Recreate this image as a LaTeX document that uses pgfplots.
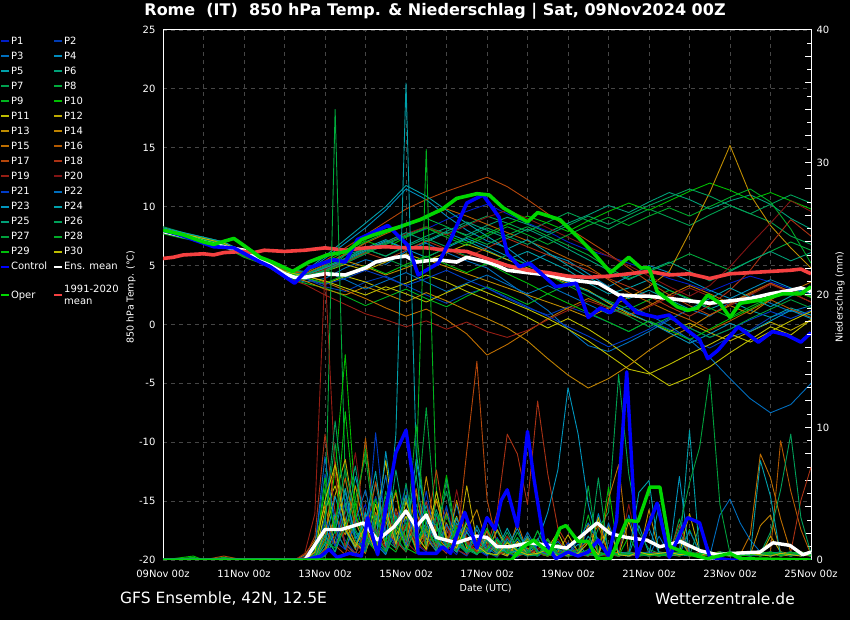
\documentclass[border=0pt]{standalone}
\usepackage{fontspec}
\setmainfont{DejaVu Sans}
\usepackage{pgfplots}
\usepackage{pgfplotstable}
\pgfplotsset{compat=1.18}

\definecolor{m1}{RGB}{0,30,200}\definecolor{m2}{RGB}{0,60,180}\definecolor{m3}{RGB}{0,110,190}
\definecolor{m4}{RGB}{0,140,190}\definecolor{m5}{RGB}{0,160,170}\definecolor{m6}{RGB}{0,160,120}
\definecolor{m7}{RGB}{0,160,80}\definecolor{m8}{RGB}{0,170,60}\definecolor{m9}{RGB}{0,180,30}
\definecolor{m10}{RGB}{0,190,0}\definecolor{m11}{RGB}{190,190,0}\definecolor{m12}{RGB}{190,170,0}
\definecolor{m13}{RGB}{190,140,0}\definecolor{m14}{RGB}{190,130,0}\definecolor{m15}{RGB}{190,110,0}
\definecolor{m16}{RGB}{180,90,0}\definecolor{m17}{RGB}{180,70,10}\definecolor{m18}{RGB}{170,50,20}
\definecolor{m19}{RGB}{150,30,20}\definecolor{m20}{RGB}{130,20,20}\definecolor{m21}{RGB}{0,60,200}
\definecolor{m22}{RGB}{0,110,190}\definecolor{m23}{RGB}{0,150,190}\definecolor{m24}{RGB}{0,160,170}
\definecolor{m25}{RGB}{0,160,120}\definecolor{m26}{RGB}{0,160,90}\definecolor{m27}{RGB}{0,160,60}
\definecolor{m28}{RGB}{0,170,40}\definecolor{m29}{RGB}{0,190,10}\definecolor{m30}{RGB}{190,190,0}
\definecolor{ctrl}{RGB}{0,0,255}\definecolor{oper}{RGB}{0,215,0}\definecolor{clim}{RGB}{245,65,65}
\definecolor{gridc}{RGB}{70,70,70}

% 850 hPa temperature of the members, one row per member (days 0,0.5,...,16)
\pgfplotstableread{
m 0 0.5 1 1.5 2 2.5 3 3.5 4 4.5 5 5.5 6 6.5 7 7.5 8 8.5 9 9.5 10 10.5 11 11.5 12 12.5 13 13.5 14 14.5 15 15.5 16
P1 8.1 7.6 7.3 6.9 5.9 5.3 4.3 4.0 4.6 5.2 6.0 6.8 7.5 8.1 8.9 9.6 10.2 9.4 8.6 7.9 7.0 6.3 5.8 5.2 4.6 3.9 3.4 2.8 3.5 4.1 3.6 3.0 2.4
P2 7.9 7.5 7.1 6.7 6.1 5.5 4.6 3.9 3.2 2.8 3.6 4.1 3.3 2.5 1.8 2.6 3.1 2.2 1.4 0.8 1.5 0.9 0.2 -0.6 0.3 -0.4 -1.2 -2.0 -1.1 -0.5 0.6 1.2 0.8
P3 8.2 7.7 7.4 7.0 5.8 5.2 4.1 3.6 3.9 4.8 5.5 5.1 6.2 6.9 6.1 5.4 4.8 3.6 2.4 1.2 -0.4 -1.8 -2.3 -1.5 -0.6 0.4 1.3 0.7 1.9 2.6 1.8 1.1 1.6
P4 7.8 7.4 7.2 6.8 6.2 5.6 4.7 4.4 5.6 6.9 8.2 9.7 11.5 10.6 9.2 8.0 7.1 6.5 5.2 6.0 5.4 4.3 3.2 4.1 5.0 4.4 3.7 2.9 2.2 3.0 3.8 3.1 2.6
P5 8.0 7.5 7.2 6.8 6.0 5.4 4.4 4.2 4.9 5.6 6.5 7.2 6.4 7.0 7.8 7.1 6.3 5.5 6.2 5.4 4.6 3.5 2.6 3.1 3.8 2.9 2.1 1.3 2.0 1.2 0.6 1.4 0.8
P6 7.9 7.4 7.0 6.6 5.9 5.4 4.5 4.3 5.0 5.9 6.4 5.8 6.7 7.5 8.2 7.6 8.4 9.1 8.5 7.8 8.6 9.3 10.1 9.5 10.4 11.2 10.6 9.8 10.5 11.0 10.2 9.0 8.1
P7 8.3 7.8 7.4 7.0 6.1 5.5 4.5 4.1 4.7 5.3 6.1 6.9 7.6 8.3 7.7 8.5 9.2 8.6 7.9 8.7 9.5 8.8 8.1 9.0 9.8 9.1 8.4 9.3 10.1 9.4 8.7 7.5 6.8
P8 8.0 7.6 7.3 6.9 6.0 5.3 4.2 3.8 4.4 5.9 7.0 7.8 8.4 9.0 8.3 7.5 6.8 7.6 8.3 7.5 6.7 5.9 4.8 3.9 4.5 5.2 6.0 5.3 4.6 5.4 6.2 7.0 6.3
P9 7.7 7.3 7.0 6.6 5.7 5.1 4.0 3.5 3.1 2.4 1.6 2.3 3.0 2.2 1.5 2.4 3.2 2.5 1.7 2.6 3.4 2.8 2.0 1.3 2.1 2.9 2.2 1.4 0.6 1.5 2.3 3.0 2.4
P10 8.1 7.7 7.3 6.9 6.2 5.6 4.7 4.4 5.3 6.2 7.1 6.5 7.4 8.2 7.6 6.9 7.7 8.5 9.2 8.6 7.9 8.8 9.6 10.3 9.7 10.5 11.3 12.0 11.4 10.6 11.2 10.5 9.8
P11 7.9 7.5 7.2 6.8 5.9 5.2 4.3 3.9 3.4 4.1 3.6 2.9 3.5 4.2 3.6 2.8 2.1 1.4 0.6 -0.3 0.5 -0.4 -1.5 -2.8 -4.1 -5.2 -4.5 -3.6 -2.4 -1.3 -0.2 -0.9 0.4
P12 8.0 7.6 7.2 6.8 6.0 5.4 4.4 4.0 4.5 5.1 4.6 5.3 6.0 5.4 6.1 6.8 6.2 5.5 4.8 4.1 3.5 2.9 1.8 0.9 0.2 -0.6 0.1 -0.7 -1.4 -0.6 0.2 -0.5 0.4
P13 8.1 7.6 7.2 6.9 6.1 5.3 4.3 4.1 4.8 5.4 4.9 4.2 4.8 5.5 4.9 4.3 3.7 3.1 2.5 1.9 1.3 0.6 1.4 2.3 3.2 4.5 7.8 11.2 15.2 11.0 8.4 6.5 4.8
P14 7.8 7.4 7.0 6.7 5.8 5.2 4.2 3.7 3.0 2.5 3.2 2.6 1.9 2.7 2.0 1.2 0.5 -0.3 -1.4 -2.9 -4.3 -5.4 -4.6 -3.5 -2.2 -1.1 -0.3 0.8 1.6 0.9 2.1 3.0 2.3
P15 8.0 7.5 7.1 6.8 6.0 5.4 4.5 4.2 3.6 2.9 2.2 1.4 0.7 1.3 0.4 -0.8 -2.6 -1.7 -0.6 0.5 1.4 2.2 1.5 0.8 1.6 2.5 3.3 2.6 1.8 2.7 3.5 2.8 3.6
P16 8.2 7.7 7.3 6.9 6.0 5.5 4.6 4.3 5.1 6.0 6.9 7.7 8.4 9.1 9.8 9.2 8.5 7.8 7.1 6.4 5.6 4.9 3.8 2.7 1.9 1.1 0.4 -0.5 0.3 1.2 2.1 1.3 0.6
P17 8.0 7.6 7.2 6.8 6.1 5.5 4.6 4.4 5.4 6.5 7.6 8.7 9.8 10.6 11.3 11.9 12.5 11.7 10.6 9.4 8.2 7.1 6.0 4.8 3.6 2.5 1.6 0.8 1.7 2.6 3.5 2.7 1.9
P18 7.9 7.5 7.1 6.7 5.9 5.3 4.4 4.0 4.6 5.3 6.1 5.5 6.3 7.1 6.4 5.7 6.5 7.3 6.6 5.9 5.2 4.6 3.9 3.2 2.4 1.5 0.7 1.6 2.9 4.6 6.8 8.9 7.5
P19 7.8 7.4 7.1 6.7 5.8 5.1 4.0 3.4 2.5 1.7 0.9 0.4 -0.2 0.3 -0.4 0.2 -0.6 -1.1 -0.5 0.4 1.2 2.0 1.4 0.7 1.5 2.3 3.1 2.4 1.6 2.5 3.4 2.7 1.9
P20 8.1 7.7 7.3 6.9 6.0 5.4 4.5 4.1 4.7 5.5 6.3 7.0 7.7 8.3 7.6 8.4 9.1 9.7 9.0 8.2 7.4 6.6 5.8 5.0 4.1 3.2 2.4 3.3 4.9 6.8 8.6 10.5 9.6
P21 8.0 7.5 7.2 6.8 6.0 5.3 4.3 3.9 3.4 3.9 4.6 4.0 3.3 3.9 4.6 3.8 3.1 2.3 1.5 0.7 -0.2 -1.0 -1.9 -1.2 -0.4 0.5 -0.3 -1.1 -0.4 0.4 1.1 0.5 1.2
P22 7.9 7.4 7.1 6.7 5.9 5.3 4.4 4.0 4.5 3.8 3.0 3.7 4.4 3.6 2.8 3.5 4.2 3.4 2.6 3.3 2.5 1.7 0.9 1.6 0.8 -0.1 -1.3 -2.8 -4.6 -6.3 -7.5 -6.8 -5.0
P23 8.1 7.6 7.2 6.8 6.0 5.4 4.5 4.2 4.8 5.5 6.3 7.1 6.4 5.7 6.5 7.3 6.6 5.8 5.1 4.3 3.6 2.8 1.9 1.0 0.2 -0.7 -1.6 -0.8 0.1 -0.6 0.3 1.2 0.5
P24 8.2 7.8 7.4 7.0 6.2 5.6 4.7 4.5 5.8 7.2 8.6 10.0 11.8 10.9 9.7 8.6 7.5 6.4 7.2 6.1 5.0 4.0 3.1 2.2 2.9 2.1 1.3 2.2 3.1 2.3 1.5 2.4 3.2
P25 7.9 7.5 7.1 6.7 5.9 5.3 4.3 4.0 4.6 5.4 6.2 7.0 7.8 7.1 7.9 8.7 8.0 7.3 8.1 7.3 6.4 5.5 4.6 3.8 4.6 5.3 4.5 3.7 4.5 5.4 6.2 5.4 6.1
P26 8.0 7.6 7.2 6.8 6.1 5.5 4.5 4.2 4.9 5.6 6.4 5.8 6.6 7.3 6.6 7.4 8.2 7.5 6.8 7.6 8.4 9.2 8.5 9.3 10.1 10.8 11.5 10.9 10.1 9.4 10.2 11.0 10.3
P27 8.1 7.6 7.3 6.9 6.0 5.3 4.4 4.1 4.6 4.0 4.8 5.6 4.9 5.7 6.5 5.8 5.1 5.9 5.0 4.2 3.3 2.4 1.5 0.7 -0.2 0.6 -0.3 -1.1 -0.4 0.5 1.3 2.1 1.4
P28 7.8 7.4 7.0 6.6 5.8 5.2 4.2 3.9 4.5 5.2 6.0 6.8 7.5 8.2 7.4 6.7 7.5 8.3 7.6 6.8 7.6 8.4 9.1 8.4 9.2 9.9 9.2 10.0 10.8 11.5 10.4 8.1 5.2
P29 8.0 7.5 7.1 6.8 6.0 5.4 4.4 4.0 3.5 4.2 5.0 4.3 5.1 5.8 5.1 4.4 5.2 4.3 3.5 2.6 1.8 1.0 0.2 -0.6 0.3 -0.5 -1.3 -0.4 0.5 1.3 2.2 3.0 2.3
P30 8.1 7.7 7.3 6.9 6.1 5.4 4.5 4.1 3.7 3.1 2.5 3.2 2.6 1.9 2.7 3.4 2.7 2.0 1.3 0.5 -0.4 -1.4 -2.6 -3.8 -4.2 -3.4 -2.5 -1.7 -0.8 -1.5 -0.6 0.3 1.1
}\tmemraw
\pgfplotstabletranspose[colnames from=m, input colnames to=t]\tmem\tmemraw

% 6-hourly precipitation of the members (mm)
\pgfplotstableread{
t P1 P2 P3 P4 P5 P6 P7 P8 P9 P10 P11 P12 P13 P14 P15 P16 P17 P18 P19 P20 P21 P22 P23 P24 P25 P26 P27 P28 P29 P30
0 0 0 0 0 0 0 0 0 0 0 0 0 0 0 0 0 0 0 0 0 0 0 0 0 0 0 0 0 0 0
0.75 0 0 0 0 0 0 0 0 0.2 0.3 0 0 0 0 0 0 0 0 0 0 0 0 0 0 0 0 0 0 0 0
1 0 0 0 0 0 0 0 0 0 0 0 0 0 0 0 0 0 0 0 0 0 0 0 0 0 0 0 0 0 0
1.5 0 0 0 0 0 0 0 0 0 0 0 0 0 0 0 0 0.3 0 0 0 0 0 0 0 0 0 0 0.2 0 0
2 0 0 0 0 0 0 0 0 0 0 0 0 0 0 0 0 0 0 0 0 0 0 0 0 0 0 0 0 0 0
2.5 0 0 0 0.1 0 0 0 0 0 0 0 0 0 0 0 0 0 0 0 0 0 0 0 0 0 0 0 0 0 0
3 0 0 0 0 0 0 0 0 0 0 0 0 0 0 0 0 0 0 0 0 0 0 0 0 0 0 0 0 0 0
3.25 0 0 0 0 0 0 0 0 0 0 0 0 0 0 0 0 0 0 0 0 0 0 0 0 0 0 0 0 0 0
3.5 0 0.3 0 0 0 0 0 0 0 0 0 0 0 0.4 0 0 0 0.2 0.5 0 0 0 0 0 0 0 0 0 0 0
3.75 0.5 1.2 0 0.3 0 0 0.8 0 0.4 0 0 0 0 1.5 0 0 0.6 1.8 3.5 0 0.2 0.9 0 0 0 0.4 0 0 0 0.6
4 2.1 6.5 0.4 1.8 0.9 0.3 3.2 2.5 5.4 1.2 3.8 2.2 0.5 4.1 1.6 0.8 2.4 9.5 22.0 0.6 3.1 7.8 1.2 0.4 1.9 2.7 0.3 1.4 6.2 4.5
4.25 1.4 3.2 2.8 0.6 3.5 1.6 8.8 34.0 2.1 6.8 5.6 4.9 3.3 1.2 7.4 2.9 1.1 3.6 6.5 1.8 1.0 2.4 4.8 2.2 0.6 10.5 2.8 0.9 2.0 7.2
4.5 0.8 1.5 5.1 2.7 1.2 4.3 2.4 6.1 1.0 15.5 2.8 7.6 1.9 2.6 3.1 6.2 0.4 1.2 0.9 3.5 4.6 0.8 2.2 5.4 3.8 4.1 6.9 2.5 11.2 2.3
4.75 2.6 0.5 1.8 6.3 0.4 2.1 1.1 2.3 3.6 4.2 1.3 2.9 5.6 0.8 1.2 2.5 3.4 0.5 0.3 8.1 1.8 2.9 0.9 1.6 7.1 1.5 3.2 4.6 3.4 1.0
5 4.2 1.9 0.7 3.1 2.6 0.8 3.5 0.9 8.4 1.6 0.6 1.1 2.1 3.4 0.5 9.2 1.6 2.2 1.1 2.4 0.7 5.3 3.6 2.8 1.9 0.6 1.5 7.8 1.2 2.6
5.25 1.3 4.8 2.5 1.2 5.8 3.2 1.4 2.6 3.1 0.7 2.8 4.2 1.0 1.9 3.6 2.2 5.9 0.8 2.4 1.2 9.6 1.6 1.2 6.7 0.8 3.4 0.9 2.1 4.6 0.6
5.5 0.5 2.1 6.4 0.4 1.9 1.2 0.6 4.8 1.2 2.9 7.5 0.9 3.4 2.6 1.1 0.7 2.3 3.8 0.9 4.5 2.1 0.8 8.2 1.1 3.6 1.5 5.2 0.6 1.4 3.8
5.75 2.8 0.9 1.4 2.5 3.4 6.8 2.1 1.5 0.6 5.3 1.9 2.7 0.8 5.1 2.6 3.9 1.2 1.4 3.6 0.8 1.2 3.3 2.6 9.5 1.4 0.9 1.8 3.3 2.8 1.2
6 5.6 3.1 0.8 1.7 0.9 2.4 4.6 2.8 2.4 1.4 3.3 1.2 2.6 0.9 4.8 1.6 3.8 0.6 1.4 2.7 3.8 1.1 4.9 36.0 2.3 5.8 0.6 1.5 0.9 4.4
6.25 1.2 1.4 3.5 7.6 2.2 0.9 1.8 0.7 6.2 3.8 0.8 5.1 1.1 3.7 1.2 5.4 0.9 2.5 0.6 1.3 1.6 4.2 1.5 8.1 6.4 1.2 2.7 10.2 0.5 1.9
6.5 0.6 4.5 1.6 2.9 4.1 1.7 0.8 3.6 31.0 0.8 2.4 1.6 6.3 1.2 2.3 0.8 2.1 4.4 1.8 0.7 5.2 1.9 2.8 3.2 1.1 2.5 11.5 2.1 3.7 0.8
6.75 3.3 1.1 2.4 0.8 1.3 3.8 2.6 1.2 5.3 2.2 4.6 0.7 1.8 4.5 1.0 2.6 6.8 1.2 0.9 3.2 1.3 0.6 1.4 2.6 3.5 0.8 2.4 1.3 1.6 5.2
7 1.1 2.3 0.9 3.6 0.7 1.5 5.2 0.8 1.4 6.4 1.5 2.8 0.9 1.8 3.6 1.2 2.2 0.5 2.6 1.1 4.1 2.7 0.8 1.2 0.9 6.1 1.2 3.4 0.8 1.6
7.25 0.4 0.8 4.2 1.2 2.8 0.6 1.6 2.4 0.8 1.9 3.3 0.8 4.5 0.6 1.4 3.1 1.1 2.6 0.8 5.3 0.7 1.4 3.2 0.6 2.2 1.3 0.7 1.2 2.5 0.9
7.5 2.2 0.3 1.1 0.6 1.3 2.9 0.5 1.6 2.5 0.6 0.9 5.6 1.3 2.2 0.8 1.4 8.2 1.3 0.4 1.6 2.4 0.5 1.1 2.1 0.6 0.8 3.1 0.6 1.1 2.8
7.75 0.8 1.6 0.5 2.3 0.4 1.2 0.9 0.5 1.1 2.6 0.5 1.4 0.6 3.8 1.9 0.7 15.0 0.6 1.5 0.5 1.2 2.6 0.4 0.9 1.8 0.4 1.2 0.9 0.5 1.1
8 0.3 0.6 1.8 0.7 1.6 0.5 2.4 0.8 0.5 1.1 1.8 0.6 2.2 1.2 0.6 2.2 4.6 0.9 0.6 1.2 0.5 0.9 1.6 0.4 0.7 1.5 0.6 2.4 0.8 0.5
8.25 1.2 0.2 0.6 1.5 0.8 2.2 0.6 1.4 0.3 0.5 0.6 2.3 0.7 0.5 1.3 0.5 1.2 3.6 0.3 0.6 1.7 0.4 0.5 1.2 2.9 0.6 0.3 0.8 1.6 0.4
8.5 0.5 1.4 0.3 0.6 2.4 0.7 1.3 0.5 1.6 0.8 0.3 0.9 0.4 1.8 0.5 1.4 0.6 9.5 0.8 1.8 0.5 1.6 0.9 0.5 0.8 2.1 1.4 0.5 0.6 1.3
8.75 0.2 0.6 1.2 0.3 0.8 1.6 0.4 2.1 0.5 0.4 1.4 0.5 1.2 0.6 2.8 0.6 0.3 8.0 0.4 0.7 1.6 0.5 2.4 0.7 0.4 0.6 0.8 1.7 0.3 0.7
9 0.8 0.3 0.5 1.6 0.4 0.5 1.8 0.7 1.2 0.6 0.5 1.6 0.3 0.9 0.6 1.8 0.5 4.2 1.5 0.4 0.6 2.1 0.6 1.8 0.5 0.3 0.5 0.6 1.5 0.4
9.25 0.4 1.1 0.3 0.5 1.2 0.3 0.6 0.4 0.6 2.2 0.4 0.5 0.8 0.4 1.6 0.5 0.7 12.0 0.5 0.9 0.3 0.7 1.4 0.5 1.6 0.4 2.2 0.3 0.6 0.5
9.5 1.3 0.4 0.8 0.3 0.5 0.8 0.3 1.5 0.4 0.5 0.9 0.3 1.6 0.5 0.4 0.6 0.3 6.5 0.3 0.5 0.8 0.4 3.6 0.9 0.4 1.2 0.5 1.6 0.3 0.8
9.75 0.5 0.6 1.4 0.8 0.3 0.4 1.2 0.3 0.7 0.4 2.1 0.6 0.4 1.2 0.5 0.3 1.1 2.4 0.6 1.6 0.4 1.1 6.8 0.4 0.3 0.5 0.9 0.4 1.2 0.3
10 0.3 0.4 0.5 0.5 0.6 0.3 0.5 0.6 0.3 0.8 0.5 1.9 0.3 0.5 0.8 0.6 0.4 1.1 0.4 0.5 1.3 0.5 13.0 0.6 0.8 0.4 0.3 0.5 0.6 0.4
10.25 0.8 0.3 0.3 1.2 0.4 0.6 0.8 0.4 0.5 0.3 0.4 0.6 0.5 0.3 0.4 0.8 0.3 0.6 0.5 0.3 0.4 1.5 9.5 0.3 0.5 0.6 0.4 0.8 0.3 0.5
10.5 0.4 2.5 0.6 0.3 1.8 0.4 0.3 0.8 3.4 0.6 0.3 0.4 2.7 0.6 0.5 1.4 0.5 0.4 0.3 0.6 0.5 2.8 4.2 0.5 0.4 0.3 5.6 0.4 0.5 1.3
10.75 0.3 1.6 0.4 3.5 0.6 0.3 2.4 0.3 0.6 0.4 3.2 0.3 0.4 0.5 0.3 2.6 0.4 0.3 0.5 0.4 0.3 1.4 1.2 0.4 0.3 6.2 0.3 0.6 0.4 0.4
11 0.5 0.4 2.8 0.8 0.4 0.5 3.6 0.5 0.3 5.5 0.3 0.5 0.3 0.4 4.6 0.4 0.3 0.5 0.4 0.3 0.6 0.3 0.5 2.3 0.6 0.4 0.5 0.3 0.6 2.5
11.25 0.4 0.3 0.5 0.4 0.6 0.3 14.0 0.4 0.6 0.3 0.5 0.4 0.6 0.3 7.2 0.6 0.5 0.4 0.3 0.5 0.4 0.5 0.4 0.6 0.3 0.5 0.4 0.5 0.3 0.4
11.5 0.6 0.5 3.4 0.3 0.4 0.6 6.5 0.6 0.4 0.6 0.4 2.9 0.5 0.6 0.3 0.4 0.3 0.6 0.5 4.2 0.3 0.6 0.3 0.4 0.5 0.3 0.6 0.4 1.8 0.3
11.75 0.3 0.6 0.5 0.4 2.6 0.4 2.1 0.3 0.5 0.4 0.6 0.5 0.4 0.5 0.6 0.5 0.4 0.3 0.6 0.5 0.5 0.4 0.6 5.1 0.4 0.6 0.3 0.6 0.4 0.6
12 0.5 0.4 0.3 2.4 0.5 0.5 0.8 0.5 0.3 0.6 0.4 0.6 3.8 0.4 0.5 0.3 0.6 0.4 0.3 0.4 0.6 0.5 0.4 6.0 0.3 0.5 0.4 0.3 0.5 0.4
12.25 0.4 0.3 1.8 0.5 0.3 0.4 0.5 0.4 0.6 0.5 0.3 0.4 0.5 0.3 0.4 0.6 0.5 0.6 0.4 0.3 0.4 0.3 4.2 0.4 0.6 0.4 0.5 0.4 0.3 0.5
12.5 0.3 0.6 0.4 0.3 0.6 0.5 0.4 0.3 0.4 0.3 0.5 0.3 0.4 0.6 0.5 0.4 0.3 0.5 0.3 0.6 0.3 0.6 0.4 0.3 0.5 0.6 0.3 0.5 0.4 0.6
12.75 0.4 0.6 2.2 0.5 0.3 1.6 0.4 3.1 0.5 0.4 0.6 0.5 0.3 1.8 0.6 0.4 0.5 2.7 0.6 0.3 0.5 0.4 6.3 0.5 0.4 0.5 2.4 0.3 0.6 0.4
13 0.6 0.3 0.5 0.4 0.6 0.4 0.5 0.6 0.4 2.3 0.3 3.5 0.6 0.4 0.3 0.6 0.4 0.5 0.3 0.6 0.4 2.2 0.4 9.8 0.3 0.4 5.8 0.6 0.4 0.5
13.25 0.3 0.5 0.4 0.6 0.4 0.5 0.3 0.4 0.6 0.5 0.4 0.6 0.4 0.5 0.6 0.3 0.5 0.4 0.6 0.4 0.3 0.6 0.5 0.4 2.6 0.5 8.5 0.4 0.5 0.3
13.5 0.5 0.4 0.6 0.3 0.5 0.6 0.4 0.5 0.3 0.6 0.5 0.4 0.5 0.6 0.4 0.5 0.6 0.3 0.4 0.5 0.6 0.3 0.4 0.5 0.6 0.4 14.0 0.5 0.3 0.6
13.75 0.4 0.6 0.3 0.5 0.4 0.3 0.6 0.4 0.5 0.4 0.6 0.3 0.6 0.4 0.5 0.6 0.3 0.5 0.4 0.6 0.5 3.4 0.6 0.3 0.4 0.5 4.2 0.6 0.4 0.5
14 0.6 0.5 0.4 0.6 0.3 0.5 0.4 0.6 0.4 0.5 0.3 0.5 0.4 0.3 0.6 0.4 0.5 0.6 0.3 0.4 0.6 4.6 0.5 0.6 0.3 0.6 0.5 0.4 0.6 0.4
14.25 0.3 0.4 0.6 0.4 0.5 0.6 0.3 0.5 0.6 0.3 0.5 0.6 0.3 0.5 0.4 0.3 0.6 0.4 0.5 0.6 0.4 2.8 0.3 0.5 0.6 0.3 0.4 0.5 0.3 0.6
14.5 0.5 0.6 0.3 0.5 0.6 0.4 0.5 0.3 0.4 0.6 0.4 0.5 0.6 0.4 1.9 0.5 0.4 0.3 0.6 0.5 0.3 1.5 0.6 0.4 0.5 0.6 0.3 0.6 0.4 0.5
14.75 0.4 0.3 0.5 0.6 0.4 0.5 0.6 0.4 0.5 0.4 0.6 0.3 0.5 2.6 8.0 0.4 0.5 0.6 0.4 0.3 0.5 0.6 0.4 7.5 0.3 0.5 0.6 0.3 0.5 0.4
15 0.6 0.5 0.4 0.3 0.5 0.6 0.4 0.6 0.3 0.5 0.5 1.8 0.4 3.4 6.2 0.6 0.3 0.5 0.6 0.4 0.6 0.3 0.5 4.8 0.6 2.1 0.4 0.5 0.6 0.3
15.25 0.3 0.4 0.6 0.5 0.6 0.3 0.5 0.4 0.6 0.4 0.3 0.6 0.5 0.6 3.1 9.0 0.5 0.4 0.3 0.6 0.4 0.5 0.6 0.3 0.5 5.3 0.6 0.4 0.3 0.5
15.5 0.5 0.6 0.4 0.6 0.3 0.5 0.6 0.3 0.5 0.6 0.4 0.5 0.3 0.4 0.6 5.2 0.4 0.6 0.5 0.3 0.6 0.4 0.3 0.6 0.4 9.5 0.3 0.6 0.5 0.4
15.75 0.4 0.3 0.5 0.4 0.6 0.4 0.3 0.5 0.4 0.3 0.6 0.4 0.6 0.5 0.3 2.3 0.6 4.5 0.4 0.5 0.3 0.6 0.5 0.4 0.6 3.2 0.5 0.4 0.6 0.3
16 0.6 0.5 0.3 0.6 0.4 0.6 0.5 0.6 0.3 0.5 0.4 0.3 0.5 0.3 0.6 0.4 0.3 7.0 0.6 0.4 0.5 0.3 0.6 0.5 0.3 0.5 0.4 0.6 0.3 0.6
}\prmem

\begin{document}
\begin{tikzpicture}[x=1pt,y=1pt]
\useasboundingbox (0,0) rectangle (850,620);
\fill[black] (0,0) rectangle (850,620);

% ---------------- temperature axis ----------------
\begin{axis}[
  at={(163pt,60pt)}, anchor=south west,
  scale only axis, width=648pt, height=530pt,
  xmin=0, xmax=16, ymin=-20, ymax=25,
  axis line style={white, line width=1pt},
  xtick={0,2,...,16},
  xticklabels={09Nov 00z,11Nov 00z,13Nov 00z,15Nov 00z,17Nov 00z,19Nov 00z,21Nov 00z,23Nov 00z,25Nov 00z},
  minor x tick num=1,
  ytick={-20,-15,...,25},
  yticklabels={-20,-15,-10,-5,0,5,10,15,20,25},
  tick style={draw=none},
  xmajorgrids, xminorgrids, ymajorgrids,
  major grid style={gridc, dash pattern=on 4pt off 4pt, line width=0.8pt},
  minor grid style={gridc, dash pattern=on 4pt off 4pt, line width=0.8pt},
  tick label style={text=white, font=\fontsize{10}{12}\selectfont},
  yticklabel style={xshift=-4pt},
  xticklabel style={yshift=-7pt},
  label style={text=white, font=\fontsize{9.5}{11}\selectfont},
  xlabel={Date (UTC)},
  xlabel style={at={(axis description cs:0.498,-0.0547)}, anchor=center},
  ylabel={850 hPa Temp. (°C)},
  ylabel style={at={(axis description cs:-0.0494,0.496)}, anchor=center},
  every axis plot/.append style={line join=round},
  legend columns=2,
  legend cell align=left,
  legend image code/.code={\draw[#1, line width=2pt] (0pt,0pt) -- (8pt,0pt);},
  legend style={at={(axis description cs:-0.2515,0.989)}, anchor=north west,
    draw=none, fill=none, text=white, font=\fontsize{10}{12}\selectfont,
    inner sep=0pt, outer sep=0pt, row sep=4.1pt, column sep=0pt,
    nodes={inner sep=1pt, align=left},
    /tikz/every even column/.append style={column sep=5pt}},
]
\pgfplotsinvokeforeach{1,...,30}{
  \addplot[color=m#1, line width=0.9pt, forget plot] table[x=t, y=P#1] {\tmem};
}
% ensemble mean
\addplot[white, line width=3.6pt, forget plot] coordinates {
(0,7.9)(0.5,7.5)(0.75,7.3)(1,7.0)(1.5,6.6)(2,6.3)(2.25,5.8)(2.5,5.3)(2.75,4.8)(3,4.3)(3.25,4.0)(3.5,4.0)
(4,4.3)(4.5,4.2)(5,4.8)(5.25,5.3)(5.75,5.7)(6,5.8)(6.25,5.3)(6.75,5.5)(7,5.4)(7.25,5.3)(7.5,5.7)(8,5.3)
(8.25,5.0)(8.5,4.6)(9,4.4)(9.5,4.2)(10,3.8)(10.5,3.6)(10.75,3.5)(11,3.0)(11.25,2.5)(11.75,2.4)(12,2.4)
(12.5,2.2)(13,2.0)(13.5,1.8)(13.75,1.9)(14,2.0)(14.5,2.2)(15,2.6)(15.5,2.9)(15.75,3.1)(16,2.8)};
% 1991-2020 mean
\addplot[clim, line width=3.6pt, forget plot] coordinates {
(0,5.6)(0.25,5.7)(0.5,5.9)(1,6.0)(1.25,5.9)(1.5,6.1)(2,6.2)(2.25,6.1)(2.5,6.3)(3,6.2)(3.5,6.3)(4,6.5)
(4.25,6.4)(4.5,6.3)(5,6.5)(5.5,6.6)(6,6.5)(6.5,6.5)(7,6.3)(7.5,6.2)(8,5.6)(8.5,5.0)(9,4.6)(9.5,4.4)
(10,4.1)(10.5,4.0)(11,4.1)(11.5,4.3)(12,4.5)(12.5,4.2)(13,4.3)(13.5,3.9)(14,4.3)(14.5,4.4)(15,4.5)
(15.5,4.6)(15.75,4.7)(16,4.3)};
% control
\addplot[ctrl, line width=3.6pt, forget plot] coordinates {
(0,8.0)(0.5,7.5)(1,6.9)(1.25,6.6)(1.75,6.5)(2.4,5.3)(2.65,4.9)(2.95,4.2)(3.25,3.5)(3.6,4.8)(4.2,5.5)
(4.5,5.3)(4.8,7.2)(5.55,8.4)(6.05,6.7)(6.3,4.2)(6.8,5.2)(7.1,7.2)(7.5,10.3)(7.9,11.0)(8.3,9.1)(8.5,6.0)
(8.8,4.9)(9.05,5.2)(9.7,3.2)(10.2,3.5)(10.5,0.6)(10.8,1.4)(11.05,1.0)(11.3,2.3)(11.7,1.0)(12.2,0.6)
(12.5,0.8)(12.95,-0.5)(13.25,-1.3)(13.45,-2.9)(13.7,-2.2)(14.2,-0.2)(14.7,-1.5)(15.05,-0.6)(15.4,-0.9)
(15.75,-1.5)(16,-0.7)};
% oper
\addplot[oper, line width=3.6pt, forget plot] coordinates {
(0,8.0)(0.5,7.6)(1,7.0)(1.25,6.8)(1.75,7.3)(2,6.7)(2.4,5.7)(2.7,5.3)(3.2,4.5)(3.6,5.3)(4.05,5.9)
(4.55,6.2)(4.9,7.2)(5.2,7.6)(5.85,8.3)(6.35,8.9)(6.9,9.8)(7.25,10.7)(7.75,11.1)(8.05,11.0)(8.4,9.9)
(9.0,8.7)(9.25,9.5)(9.8,8.9)(10.25,7.4)(10.7,5.8)(11.05,4.4)(11.5,5.7)(11.8,4.8)(12.0,4.8)(12.2,2.8)
(12.7,1.5)(12.95,1.2)(13.2,1.4)(13.45,2.5)(13.75,1.8)(14.0,0.6)(14.25,1.8)(14.8,2.1)(15.3,2.6)
(15.75,2.6)(16,3.2)};
% legend
\pgfplotsinvokeforeach{1,...,30}{\addlegendimage{m#1}\addlegendentry{P#1}}
\addlegendimage{ctrl}\addlegendentry{Control}
\addlegendimage{white}\addlegendentry{Ens. mean}
\addlegendimage{empty legend}\addlegendentry{}
\addlegendimage{empty legend}\addlegendentry{}
\addlegendimage{oper}\addlegendentry{Oper}
\addlegendimage{clim}\addlegendentry{1991-2020\\mean}
\end{axis}

% ---------------- precipitation axis ----------------
\begin{axis}[
  at={(163pt,60pt)}, anchor=south west,
  scale only axis, width=648pt, height=530pt,
  xmin=0, xmax=16, ymin=0, ymax=40,
  axis x line=none,
  axis y line*=right,
  y axis line style={white, line width=1pt},
  ytick={0,2,...,40},
  yticklabels={0,,,,,10,,,,,20,,,,,30,,,,,40},
  minor ytick={1,3,...,39},
  tick align=inside,
  major tick length=6pt, minor tick length=4pt,
  tick style={white, line width=1pt},
  tick label style={text=white, font=\fontsize{10}{12}\selectfont},
  yticklabel style={xshift=2pt},
  label style={text=white, font=\fontsize{9.5}{11}\selectfont},
  ylabel={Niederschlag (mm)},
  ylabel style={at={(axis description cs:1.0448,0.496)}, anchor=center},
  every axis plot/.append style={line join=round},
]
\pgfplotsinvokeforeach{1,...,30}{
  \addplot[color=m#1, line width=0.9pt] table[x=t, y=P#1] {\prmem};
}
\addplot[white, line width=3.4pt] coordinates {
(0,0)(3.5,0)(3.55,0.2)(4.0,2.3)(4.4,2.3)(4.95,2.8)(5.3,1.5)(5.7,2.5)(6.0,3.7)(6.25,2.5)(6.5,3.4)(6.75,1.7)
(7.25,1.3)(7.75,1.8)(8.0,1.7)(8.25,1.0)(8.55,1.0)(9.05,1.3)(9.55,1.1)(9.97,0.9)(10.72,2.8)(11.04,2.0)
(11.45,1.7)(11.95,1.5)(12.27,1.0)(12.77,1.4)(13.26,0.7)(13.68,0.4)(14.07,0.5)(14.74,0.6)(15.06,1.3)
(15.48,1.1)(15.8,0.4)(16,0.6)};
\addplot[ctrl, line width=3.4pt] coordinates {
(0,0)(3.5,0)(3.9,0.3)(4.1,0.8)(4.3,0.2)(4.6,0.5)(4.9,0.3)(5.05,3.2)(5.3,0.4)(5.75,8.1)(6.0,9.8)(6.15,6.6)
(6.3,0.5)(6.75,0.5)(6.9,1.0)(7.1,0.5)(7.45,3.6)(7.75,0.9)(8.0,3.2)(8.2,2.3)(8.35,4.5)(8.5,5.3)(8.75,2.5)
(9.0,9.7)(9.15,6.3)(9.4,1.5)(9.7,0.1)(10.0,0.6)(10.25,0.3)(10.5,0.6)(10.75,1.5)(11.0,0.3)(11.2,3.0)
(11.45,14.2)(11.7,0.2)(11.95,2.3)(12.2,4.3)(12.5,0.2)(12.95,3.2)(13.25,2.8)(13.5,0.2)(14,0)(16,0)};
\addplot[oper, line width=3.4pt] coordinates {
(0,0)(8.6,0)(8.9,1.0)(9.15,1.5)(9.55,0.5)(9.8,2.4)(9.95,2.6)(10.25,1.4)(10.5,1.4)(10.72,0.1)(11.05,0.1)
(11.45,3.0)(11.73,2.9)(12.02,5.5)(12.27,5.5)(12.52,1.0)(12.94,0.5)(13.44,0.1)(14.0,0.5)(14.25,0.1)(16,0)};
\end{axis}

\node[text=white, font=\fontsize{16}{18}\selectfont\bfseries] at (435,609)
  {Rome\ \ (IT)\ \ 850 hPa Temp. \& Niederschlag | Sat, 09Nov2024 00Z};
\node[text=white, anchor=west, font=\fontsize{15.5}{18}\selectfont, inner sep=0pt] at (120,21)
  {GFS Ensemble, 42N, 12.5E};
\node[text=white, anchor=east, font=\fontsize{15.5}{18}\selectfont, inner sep=0pt] at (795,21)
  {Wetterzentrale.de};
\end{tikzpicture}
\end{document}
